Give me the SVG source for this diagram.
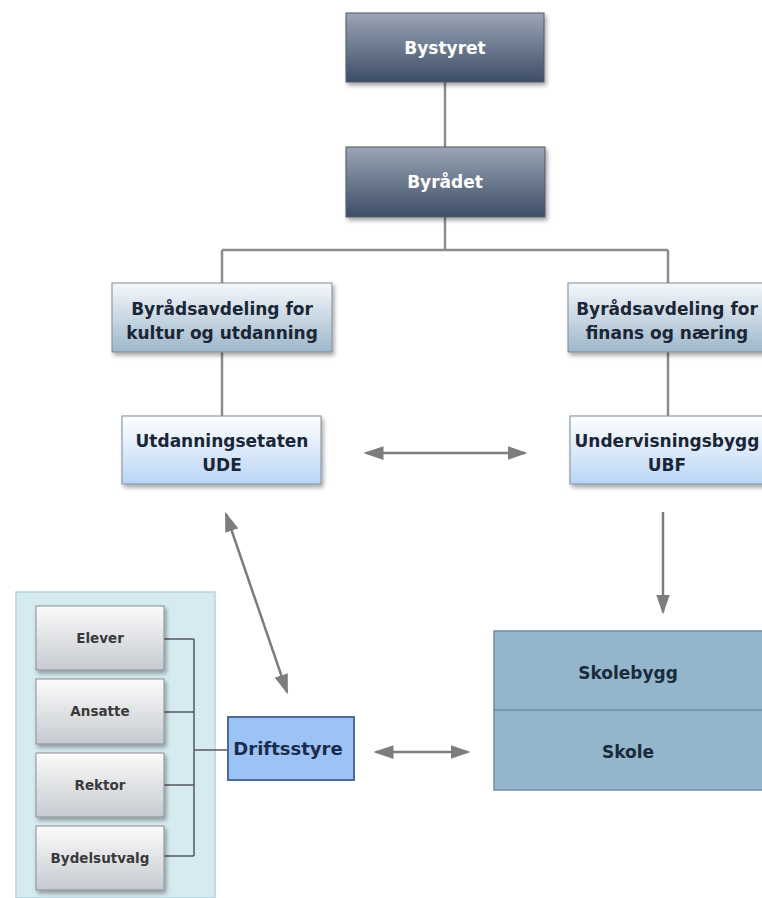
<svg xmlns="http://www.w3.org/2000/svg" width="762" height="898" viewBox="0 0 762 898">
<defs>
<linearGradient id="gDark" x1="0" y1="0" x2="0" y2="1"><stop offset="0" stop-color="#9ba6b6"/><stop offset="1" stop-color="#3d4d66"/></linearGradient>
<linearGradient id="gDept" x1="0" y1="0" x2="0" y2="1"><stop offset="0" stop-color="#f5f8fb"/><stop offset="1" stop-color="#9db7ca"/></linearGradient>
<linearGradient id="gAgency" x1="0" y1="0" x2="0" y2="1"><stop offset="0" stop-color="#ffffff"/><stop offset="1" stop-color="#bad5f5"/></linearGradient>
<linearGradient id="gSmall" x1="0" y1="0" x2="0" y2="1"><stop offset="0" stop-color="#fbfbfb"/><stop offset="1" stop-color="#c6cad0"/></linearGradient>
<filter id="sh" x="-10%" y="-10%" width="125%" height="130%"><feDropShadow dx="2" dy="3" stdDeviation="2" flood-color="#000" flood-opacity="0.35"/></filter>
<marker id="ah" viewBox="0 0 16 11" refX="14" refY="5.5" markerWidth="8" markerHeight="5.5" orient="auto-start-reverse" markerUnits="strokeWidth"><path d="M0,0 L16,5.5 L0,11 z" fill="#7d7d7d"/></marker>
</defs>
<style>
.t{font-family:"DejaVu Sans",Verdana,sans-serif;font-weight:bold;text-anchor:middle}
.w{fill:#ffffff;font-size:17px}
.d{fill:#1b2636;font-size:17px}
.s{fill:#3a3a3a;font-size:13.5px}
.tree{stroke:#8c8c8c;stroke-width:2.5;fill:none}
.br{stroke:#555a60;stroke-width:1.5;fill:none}
.arr{stroke:#7d7d7d;stroke-width:2.5;fill:none;marker-start:url(#ah);marker-end:url(#ah)}
.arr1{stroke:#7d7d7d;stroke-width:2.5;fill:none;marker-end:url(#ah)}
</style>
<rect width="762" height="898" fill="#ffffff"/>
<rect id="panel" x="16" y="592" width="199" height="306" fill="#d6ebf0" stroke="#b5d3db" stroke-width="1.5"/>
<g id="connectors">
<path class="tree" d="M445,82 V147 M445,217 V250 M222,250 H668 M222,250 V283 M668,250 V283 M222,352 V416 M668,352 V416"/>
<path class="br" d="M164,639 H194 M164,712 H194 M164,785 H194 M164,856 H194 M194,639 V856 M194,750 H227"/>
<line class="arr" x1="366" y1="453" x2="525" y2="453"/>
<line class="arr" x1="226" y1="514" x2="287" y2="692"/>
<line class="arr1" x1="663" y1="512" x2="663" y2="612"/>
<line class="arr" x1="376" y1="752" x2="468" y2="752"/>
</g>
<g id="bystyret"><rect x="346" y="13" width="198" height="69" fill="url(#gDark)" stroke="#50596a" filter="url(#sh)"/><text class="t w" x="445" y="54">Bystyret</text></g>
<g id="byraadet"><rect x="346" y="147" width="199" height="70" fill="url(#gDark)" stroke="#50596a" filter="url(#sh)"/><text class="t w" x="445" y="188">Byrådet</text></g>
<g id="dept-kultur"><rect x="112" y="283" width="220" height="69" fill="url(#gDept)" stroke="#7d8d9c" filter="url(#sh)"/><text class="t d" x="222" y="315">Byrådsavdeling for</text><text class="t d" x="222" y="339">kultur og utdanning</text></g>
<g id="dept-finans"><rect x="568" y="283" width="200" height="69" fill="url(#gDept)" stroke="#7d8d9c" filter="url(#sh)"/><text class="t d" x="667" y="315">Byrådsavdeling for</text><text class="t d" x="667" y="339">finans og næring</text></g>
<g id="ude"><rect x="122" y="416" width="199" height="68" fill="url(#gAgency)" stroke="#7d8d9c" filter="url(#sh)"/><text class="t d" x="222" y="447">Utdanningsetaten</text><text class="t d" x="222" y="471">UDE</text></g>
<g id="ubf"><rect x="570" y="416" width="198" height="68" fill="url(#gAgency)" stroke="#7d8d9c" filter="url(#sh)"/><text class="t d" x="667" y="447">Undervisningsbygg</text><text class="t d" x="667" y="471">UBF</text></g>
<g id="elever"><rect x="36" y="606" width="128" height="64" fill="url(#gSmall)" stroke="#8a8e94" filter="url(#sh)"/><text class="t s" x="100" y="643">Elever</text></g>
<g id="ansatte"><rect x="36" y="679" width="128" height="65" fill="url(#gSmall)" stroke="#8a8e94" filter="url(#sh)"/><text class="t s" x="100" y="716">Ansatte</text></g>
<g id="rektor"><rect x="36" y="753" width="128" height="64" fill="url(#gSmall)" stroke="#8a8e94" filter="url(#sh)"/><text class="t s" x="100" y="790">Rektor</text></g>
<g id="bydelsutvalg"><rect x="36" y="826" width="128" height="64" fill="url(#gSmall)" stroke="#8a8e94" filter="url(#sh)"/><text class="t s" x="100" y="863">Bydelsutvalg</text></g>
<g id="driftsstyre"><rect x="228" y="717" width="126" height="63" fill="#9cc3f5" stroke="#4d6b93" stroke-width="2"/><text class="t" x="288" y="755" style="fill:#1b2b4b;font-size:18px">Driftsstyre</text></g>
<g id="skole"><rect x="494" y="631" width="272" height="159" fill="#93b6cc" stroke="#6f8ea3" stroke-width="1.5"/><line x1="494" y1="710" x2="766" y2="710" stroke="#6f8ea3" stroke-width="1.5"/><text class="t" x="628" y="679" style="fill:#1b2b3b;font-size:17px">Skolebygg</text><text class="t" x="628" y="758" style="fill:#1b2b3b;font-size:17px">Skole</text></g>
</svg>
